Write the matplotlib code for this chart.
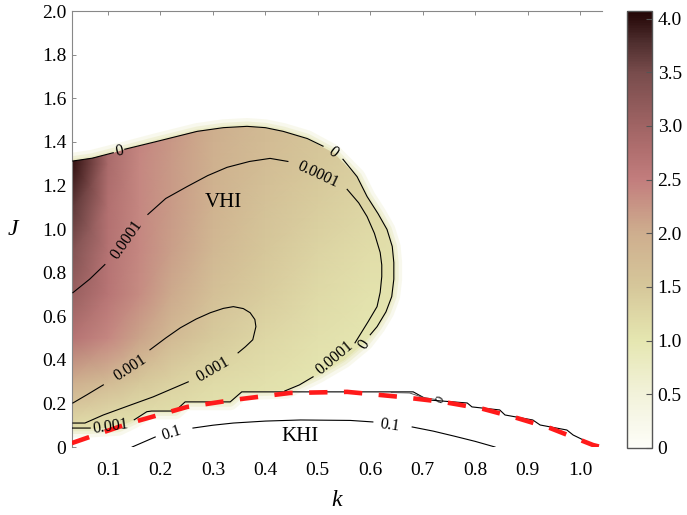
import numpy as np
import matplotlib.pyplot as plt
from matplotlib.colors import LinearSegmentedColormap, Normalize
from matplotlib.patches import Polygon
from matplotlib.cm import ScalarMappable

plt.rcParams['font.family'] = ['Liberation Serif', 'DejaVu Serif']

nan = np.nan

# colour field (rows follow grid_J, columns follow grid_k)
grid_k = [0.0, 0.03, 0.1, 0.16, 0.22, 0.3, 0.4, 0.5, 0.6, 0.66]
grid_J = [0.0, 0.1, 0.3, 0.5, 0.7, 0.9, 1.1, 1.3, 1.5]
grid_val = [
    [1.1, 1.1, 1.0, 1.0, 1.0, 1.0, 1.0, 1.0, 1.0, 1.0],
    [1.2, 1.2, 1.1, 1.05, 1.05, 1.0, 1.0, 1.0, 1.0, 1.0],
    [2.0, 2.0, 1.75, 1.5, 1.35, 1.2, 1.1, 1.0, 1.0, 1.0],
    [2.7, 2.7, 2.4, 2.1, 1.75, 1.45, 1.25, 1.1, 1.0, 1.0],
    [3.1, 3.1, 2.65, 2.35, 2.05, 1.65, 1.4, 1.2, 1.08, 1.05],
    [3.4, 3.4, 2.7, 2.4, 2.15, 1.8, 1.5, 1.3, 1.15, 1.1],
    [3.7, 3.7, 2.75, 2.4, 2.2, 1.9, 1.6, 1.4, 1.25, 1.15],
    [4.0, 4.0, 2.85, 2.4, 2.2, 1.95, 1.7, 1.5, 1.35, 1.2],
    [4.0, 4.0, 2.9, 2.45, 2.25, 2.0, 1.75, 1.55, 1.4, 1.25],
]

# outline of the coloured VHI region
region_k = [0.0, 0.033, 0.07, 0.11, 0.135, 0.19, 0.27, 0.32, 0.365, 0.40, 0.434, 0.48,
            0.53, 0.575, 0.594, 0.615, 0.632, 0.642, 0.645, 0.645, 0.641, 0.63, 0.613,
            0.59, 0.55, 0.5, 0.44,
            0.355, 0.333, 0.247, 0.228, 0.183, 0.174, 0.15, 0.12, 0.066, 0.0]
region_J = [1.31, 1.312, 1.325, 1.35, 1.365, 1.40, 1.448, 1.465, 1.471, 1.465, 1.448, 1.415,
            1.35, 1.24, 1.149, 1.07, 0.998, 0.92, 0.846, 0.77, 0.69, 0.62, 0.552,
            0.48, 0.40, 0.33, 0.26,
            0.253, 0.207, 0.207, 0.165, 0.165, 0.162, 0.125, 0.09, 0.082, 0.082]

# contour lines (nan = gap left for a label)
c0_k = [0.033, 0.07, 0.11, nan, 0.132, 0.19, 0.27, 0.32, 0.365, 0.40, 0.434, 0.48,
        0.51, nan, 0.548, 0.575, 0.594, 0.615, 0.632, 0.642, 0.645, 0.645, 0.641,
        0.63, 0.613, 0.600]
c0_J = [1.312, 1.325, 1.35, nan, 1.366, 1.40, 1.448, 1.465, 1.471, 1.465, 1.448, 1.415,
        1.38, nan, 1.32, 1.24, 1.149, 1.07, 0.998, 0.92, 0.846, 0.77, 0.69,
        0.62, 0.552, 0.515]

c1_k = [0.033, 0.065, 0.094, nan, 0.176, 0.21, 0.251, 0.29, 0.327, 0.37, 0.409, 0.443,
        nan, 0.556, 0.578, 0.594, 0.608, 0.619, 0.622, 0.622, 0.619, 0.613, 0.596,
        0.571, nan, 0.491, 0.465, 0.437]
c1_J = [0.708, 0.77, 0.837, nan, 1.067, 1.14, 1.195, 1.245, 1.283, 1.31, 1.324, 1.31,
        nan, 1.182, 1.12, 1.057, 0.98, 0.892, 0.835, 0.782, 0.71, 0.644, 0.575,
        0.478, nan, 0.322, 0.285, 0.257]

c2_k = [0.033, 0.06, 0.091, nan, 0.180, 0.21, 0.238, 0.268, 0.295, 0.32, 0.339, 0.358,
        0.371, 0.38, 0.382, 0.376, 0.362, 0.348, nan, 0.253, 0.22, 0.186, 0.14, 0.091,
        0.056, 0.033]
c2_J = [0.202, 0.24, 0.285, nan, 0.446, 0.50, 0.547, 0.587, 0.616, 0.636, 0.644, 0.635,
        0.616, 0.585, 0.552, 0.492, 0.46, 0.432, nan, 0.299, 0.265, 0.230, 0.19, 0.147,
        0.110, 0.110]

edge_k = [0.031, 0.066, nan, 0.15, 0.174, 0.183, 0.228, 0.247, 0.333, 0.355, 0.682,
          0.71, 0.785, 0.794, 0.847, 0.857, 0.91, 0.924, 0.975, 0.987, 1.034]
edge_J = [0.087, 0.087, nan, 0.125, 0.162, 0.165, 0.165, 0.207, 0.207, 0.253, 0.253,
          0.216, 0.202, 0.184, 0.170, 0.147, 0.124, 0.101, 0.078, 0.055, 0.0]

edge2_k = [0.64, 0.675, 0.70, 0.725]
edge2_J = [0.250, 0.248, 0.228, 0.218]

khi_k = [0.146, 0.19, nan, 0.262, 0.30, 0.339, 0.40, 0.467, 0.562, 0.605, nan,
         0.68, 0.72, 0.76, 0.80, 0.838]
khi_J = [0.0, 0.046, nan, 0.087, 0.100, 0.110, 0.119, 0.124, 0.122, 0.115, nan,
         0.092, 0.073, 0.05, 0.026, 0.0]

red_k = [0.031, 0.142, 0.251, 0.339, 0.447, 0.556, 0.657, 0.739, 0.815, 0.880, 0.943, 1.025, 1.04]
red_J = [0.018, 0.110, 0.184, 0.216, 0.248, 0.253, 0.230, 0.207, 0.175, 0.133, 0.087, 0.009, 0.0]

# contour labels: text, k, J, angle
labels = [
    ('0', 0.121, 1.356, 12),
    ('0', 0.529, 1.352, -38),
    ('0', 0.588, 0.47, 58),
    ('0', 0.733, 0.216, 60),
    ('0.0001', 0.136, 0.952, 55),
    ('0.0001', 0.5, 1.251, -25),
    ('0.0001', 0.533, 0.409, 40),
    ('0.001', 0.142, 0.363, 33),
    ('0.001', 0.300, 0.354, 30),
    ('0.001', 0.104, 0.092, 8),
    ('0.1', 0.222, 0.064, 18),
    ('0.1', 0.638, 0.101, -8),
]

cb_stops = [0.0, 0.5, 1.0, 1.5, 2.0, 2.5, 2.75, 3.0, 3.5, 3.8, 4.07]
cb_colors = ['#fdfdf8', '#f2f2da', '#e5e6b0', '#d6c79a', '#ceae8e', '#c27d7d',
             '#b27070', '#a06464', '#784c4c', '#4c2c2c', '#220404']
vmax = 4.07

cmap = LinearSegmentedColormap.from_list(
    'vhi', list(zip(np.array(cb_stops) / vmax, cb_colors)))
norm = Normalize(0, vmax)

fig = plt.figure(figsize=(6.87, 5.15), dpi=100)
ax = fig.add_axes([0.1048, 0.132, 0.7715, 0.8466])

region = np.column_stack([region_k, region_J])
for lw, a in [(12, 0.25), (7, 0.4), (3, 0.6)]:
    ax.add_patch(Polygon(region, closed=True, fill=False, ec='#e6e6b8',
                         lw=lw, alpha=a, joinstyle='round', zorder=1))
clip = Polygon(region, closed=True, transform=ax.transData)
K, JJ = np.meshgrid(grid_k, grid_J)
mesh = ax.pcolormesh(K, JJ, np.array(grid_val), cmap=cmap, norm=norm,
                     shading='gouraud', zorder=2)
mesh.set_clip_path(clip)

line_kw = dict(color='black', lw=0.8, zorder=3)
ax.plot(c0_k, c0_J, **line_kw)
ax.plot(c1_k, c1_J, **line_kw)
ax.plot(c2_k, c2_J, **line_kw)
ax.plot(edge_k, edge_J, **line_kw)
ax.plot(edge2_k, edge2_J, color='#555555', lw=0.7, zorder=3)
ax.plot(khi_k, khi_J, **line_kw)
ax.plot(red_k, red_J, color='#ff1a1a', lw=3.3, dashes=(4.0, 3.6), zorder=4)

for txt, x, y, ang in labels:
    fs = 9 if (txt == '0' and y < 0.3) else 11.5
    ax.text(x, y, txt, rotation=ang, ha='center', va='center', fontsize=fs,
            rotation_mode='anchor', zorder=5)

ax.text(0.32, 1.12, 'VHI', ha='center', va='center', fontsize=15, zorder=5)
ax.text(0.466, 0.046, 'KHI', ha='center', va='center', fontsize=15, zorder=5)

ax.set_xlim(0.0313, 1.042)
ax.set_ylim(0, 2.0)
xt = np.round(np.arange(0.1, 1.01, 0.1), 1)
yt = np.round(np.arange(0, 2.01, 0.2), 1)
ax.set_xticks(xt)
ax.set_xticklabels([f'{v:.1f}' for v in xt])
ax.set_yticks(yt)
ax.set_yticklabels(['0'] + [f'{v:.1f}' for v in yt[1:]])
ax.tick_params(axis='x', bottom=False, top=True, direction='in', length=3,
               width=0.6, color='#777777', labelsize=14, pad=11)
ax.tick_params(axis='y', direction='in', length=3, width=0.6, color='#777777',
               labelsize=14, pad=4)
for s in ['right', 'bottom']:
    ax.spines[s].set_visible(False)
for s in ['left', 'top']:
    ax.spines[s].set_color('#888888')
    ax.spines[s].set_linewidth(0.8)

ax.set_ylabel('J', rotation=0, fontstyle='italic', fontsize=17)
ax.yaxis.label.set_va('center')
ax.yaxis.set_label_coords(-0.111, 0.498)
ax.set_xlabel('k', fontstyle='italic', fontsize=17)
ax.xaxis.label.set_va('center')
ax.xaxis.set_label_coords(0.5, -0.122)

cax = fig.add_axes([0.9127, 0.1301, 0.0364, 0.8485])
sm = ScalarMappable(norm=norm, cmap=cmap)
cb = fig.colorbar(sm, cax=cax, ticks=np.arange(0, 4.01, 0.5))
cb.ax.set_yticklabels(['0'] + [f'{v:.1f}' for v in np.arange(0.5, 4.01, 0.5)])
cb.ax.tick_params(direction='in', length=4, width=0.8, color='#555555',
                  labelsize=14, pad=4)
cb.outline.set_edgecolor('#555555')
cb.outline.set_linewidth(1.0)

fig.savefig('out.png', dpi=100)
